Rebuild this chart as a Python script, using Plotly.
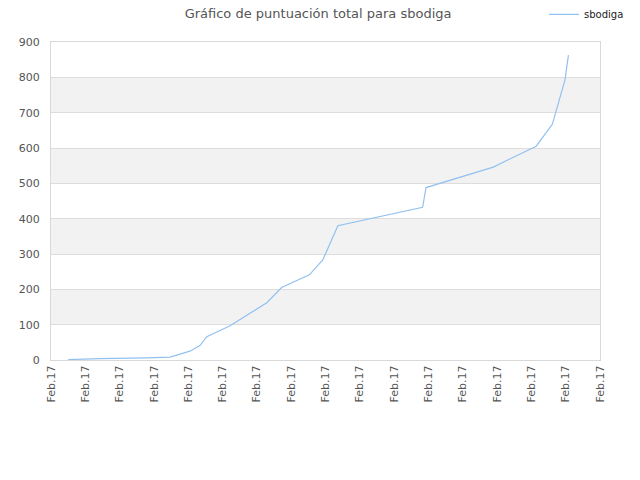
import plotly.graph_objects as go

# score over time (x in tick units, 16 intervals all labelled Feb.17)
pos = [0.50, 1.43, 2.77, 3.47, 4.05, 4.34, 4.54, 5.22, 6.29, 6.72, 7.53, 7.92,
       8.36, 10.83, 10.93, 12.89, 14.14, 14.61, 14.98, 15.08]
puntos = [1, 4, 6, 8, 25, 41, 66, 97, 162, 205, 241, 283,
          380, 432, 488, 546, 605, 667, 793, 863]
tick_pos = list(range(17))
tick_labels = ["Feb.17"] * 17
y_ticks = [0, 100, 200, 300, 400, 500, 600, 700, 800, 900]
bands = [(100, 200), (300, 400), (500, 600), (700, 800)]

fig = go.Figure()
fig.add_trace(go.Scatter(x=pos, y=puntos, mode="lines", name="sbodiga",
                         line=dict(color="#92c1f0", width=1.2)))

shapes = []
for lo, hi in bands:
    shapes.append(dict(type="rect", xref="paper", yref="y", x0=0, x1=1, y0=lo, y1=hi,
                       fillcolor="#f2f2f2", line=dict(width=0), layer="below"))

fig.update_layout(
    width=640, height=480,
    paper_bgcolor="white", plot_bgcolor="white",
    margin=dict(l=51, r=40, t=42, b=120, autoexpand=False),
    font=dict(family="DejaVu Sans", size=11, color="#555"),
    title=dict(text="Gráfico de puntuación total para sbodiga", x=0.497, xref="container",
               y=0.972, yref="container", yanchor="middle",
               font=dict(size=13, color="#555")),
    showlegend=True,
    legend=dict(x=0.85, xref="container", y=0.97, yref="container",
                xanchor="left", yanchor="middle",
                font=dict(size=10, color="#222"), bgcolor="rgba(0,0,0,0)"),
    shapes=shapes,
    xaxis=dict(range=[0, 16], tickvals=tick_pos, ticktext=tick_labels, tickangle=-90,
               showgrid=False, zeroline=False, showline=True, linecolor="#d9d9d9",
               mirror=True, ticks="", automargin=False,
               tickfont=dict(size=11, color="#555")),
    yaxis=dict(range=[0, 900], tickvals=y_ticks, showgrid=True, gridcolor="#dddddd",
               zeroline=False, showline=True, linecolor="#d9d9d9", mirror=True,
               ticks="", ticklabelstandoff=8, automargin=False,
               tickfont=dict(size=11, color="#555")),
)

# drop the default page margin so the figure sits at the window corner
fig.write_html("out.html", config={"displayModeBar": False},
               post_script="document.body.style.margin='0';")
